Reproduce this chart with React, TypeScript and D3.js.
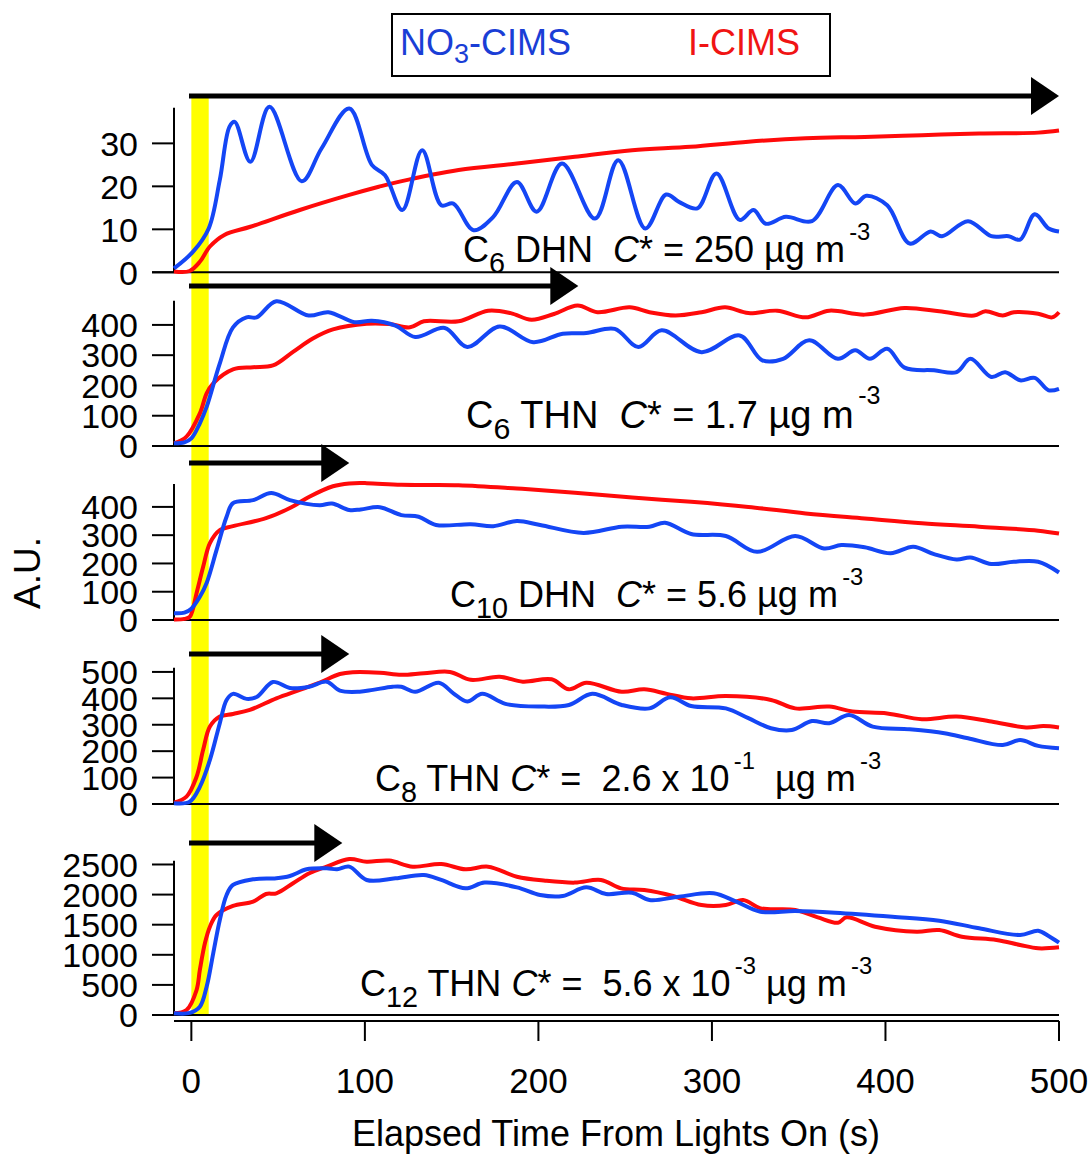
import React from "react";
import * as d3 from "d3";

// ---------- DATA ----------
const xTicks = [0, 100, 200, 300, 400, 500];
const p1Ticks = [0, 10, 20, 30];
const p2Ticks = [0, 100, 200, 300, 400];
const p3Ticks = [0, 100, 200, 300, 400];
const p4Ticks = [0, 100, 200, 300, 400, 500];
const p5Ticks = [0, 500, 1000, 1500, 2000, 2500];
const yMax = [38.3, 480, 481, 516, 2563];
const arrowEnds = [500, 223, 91, 91, 87];
const lightsOn = [0, 10];

const p1Blue: [number, number][] = [[-10,0.9],[1,4.8],[10,10.2],[16.4,21.5],[22,33.9],[25,35],[34,25.7],[45,38.5],[63.6,21.2],[75,28.8],[91,38.1],[104,25],[111.6,22.6],[121.6,14.5],[133,28.4],[144,15.6],[151,16],[162.6,9.8],[174,12.9],[187.6,21],[199,14.1],[213.6,25.3],[232.6,12.5],[246,26.1],[261.6,10.2],[273.6,18.1],[281,16.4],[291.6,14.9],[302.6,23],[316,12.2],[324,14.5],[331,11.3],[342.6,12.9],[357.6,11.9],[372.6,20.3],[382.6,16],[389,17.8],[401,15.6],[414,6.7],[426,9.5],[432.6,8.4],[447.6,11.9],[461,8.4],[471,8.4],[477.6,7.6],[486,13.5],[494,10.2],[500,9.5]];
const p1Red: [number, number][] = [[-10,0.2],[-1,0.3],[5,2.5],[10.7,6],[19,8.7],[34,10.6],[62.5,14.5],[91,18],[108,19.9],[120,21.1],[154,23.8],[187.6,25.3],[221,26.9],[254,28.4],[287.6,29.2],[321,30.4],[354,31.2],[388,31.5],[421,31.9],[454,32.3],[488,32.5],[500,33]];

const p2Blue: [number, number][] = [[-10,9],[-4,12],[0,25],[4.9,75],[8.8,129],[16.4,273],[24,392],[31.8,425],[37.6,425],[49,478],[67.6,431],[79,442],[94,409],[104,414],[117.6,398],[129,360],[146,390],[159,327],[177.6,395],[197,343],[214,371],[227.6,373],[244,387],[257.6,327],[271,382],[294,310],[316,365],[329,283],[341,288],[356,349],[372.6,288],[382.6,316],[391,288],[401,321],[411,259],[428,250],[441,244],[449,288],[461,228],[469,244],[477.6,217],[486,225],[494,184],[500,189]];
const p2Red: [number, number][] = [[-10,9],[-2.8,31],[4.9,108],[8.8,174],[12.6,207],[24,253],[35.6,260],[47,266],[58.6,311],[70,355],[81.6,385],[101,404],[114,403],[126,392],[134,412],[154,412],[171,447],[184,439],[196,417],[209,436],[222.6,464],[234,442],[252.6,458],[264,442],[279,431],[294,442],[307.6,458],[321,439],[337.6,447],[354,425],[367.6,447],[388,434],[411,456],[431,445],[451,431],[457.6,445],[467.6,431],[474,442],[488,437],[496,425],[500,442]];

const p3Blue: [number, number][] = [[-10,24],[-4,26],[0,40],[4.9,82],[8.8,131],[14.5,247],[20.3,365],[24,413],[35.6,424],[46,449],[56.8,424],[74,406],[81,412],[91,389],[97.6,391],[108.6,399],[121,371],[131,365],[141,336],[161,339],[174,332],[187.6,350],[201,336],[226,308],[248,330],[264,330],[273,344],[288,304],[308,297],[326,241],[348,297],[364.6,253],[374.6,265],[388,257],[403,236],[416,259],[428,233],[441,214],[449,221],[461,198],[474,206],[488,206],[500,168]];
const p3Red: [number, number][] = [[-10,2],[-4,4],[-0.8,12],[3,95],[6.8,188],[10.7,272],[16.4,318],[24,332],[43,360],[56.8,396],[68,436],[81.6,473],[91,483],[101,484],[121,478],[154,477],[187.6,465],[221,450],[254,433],[288,418],[321,400],[354,377],[388,359],[421,342],[454,330],[488,316],[500,306]];

const p4Blue: [number, number][] = [[-10,3],[-0.9,9],[4.9,65],[10.7,167],[16.4,306],[20.3,394],[24,417],[31.8,398],[37.6,405],[47,462],[56.8,439],[68,444],[78,463],[85.6,429],[97,425],[104.6,432],[116,444],[121,444],[129,425],[142.6,459],[151,419],[159,388],[167.6,417],[181,379],[201,369],[217.6,375],[231,417],[248,375],[264,362],[276,404],[288,371],[308,362],[321,325],[334,287],[346,280],[357.6,314],[367.6,306],[379,337],[392.6,293],[414,283],[434,268],[447.6,249],[467.6,223],[477.6,242],[488,220],[500,211]];
const p4Red: [number, number][] = [[-10,5],[-2.8,28],[3,103],[6.8,205],[10.7,293],[16.4,331],[24,341],[33.7,356],[49,400],[62.5,432],[74,460],[85.6,492],[93,499],[108.6,497],[121,489],[134,495],[149,500],[161,470],[177.6,482],[191,463],[207.6,472],[217.6,434],[227.6,459],[248,425],[261,434],[274,417],[288,400],[308,409],[334,394],[348,362],[367.6,369],[381,350],[401,343],[421,321],[441,331],[461,312],[481,290],[491,295],[500,290]];

const p5Blue: [number, number][] = [[-10,30],[-1,35],[4.9,138],[8.8,470],[12.6,1025],[16.4,1578],[20.3,1993],[24,2160],[35.6,2254],[49,2271],[56.8,2309],[66.4,2420],[78,2436],[84,2420],[91,2464],[101,2243],[117.6,2270],[134,2326],[144,2243],[158,2104],[169,2199],[187.6,2120],[201,1993],[214,1977],[227.6,2120],[239,2010],[254,2030],[264,1910],[281,1965],[301,2021],[314,1882],[328,1716],[348,1727],[371,1700],[404,1633],[431,1567],[454,1440],[477.6,1329],[488,1400],[494,1312],[500,1201]];
const p5Red: [number, number][] = [[-10,30],[-2.8,83],[3,415],[4.9,748],[7.8,1191],[10.7,1467],[14.5,1661],[24,1811],[35.6,1882],[43,2010],[49,2021],[58.6,2188],[68,2354],[78,2464],[91,2590],[101,2547],[114,2565],[127.6,2464],[144,2508],[158,2420],[171,2464],[187.6,2297],[204,2231],[221,2199],[236,2243],[247.6,2104],[261,2076],[277.6,1977],[294,1827],[308,1827],[318,1910],[328,1772],[348,1744],[361,1622],[372.6,1533],[377.6,1622],[394,1467],[418,1384],[431,1412],[444,1301],[464,1246],[477.6,1163],[488,1108],[500,1124]];

type Seg = { t: string; s?: "sub" | "sup" | "it" };
const label1: Seg[] = [{ t: "C" }, { t: "6", s: "sub" }, { t: " DHN  " }, { t: "C", s: "it" }, { t: "* = 250 µg m" }, { t: "-3", s: "sup" }];
const label2: Seg[] = [{ t: "C" }, { t: "6", s: "sub" }, { t: " THN  " }, { t: "C", s: "it" }, { t: "* = 1.7 µg m" }, { t: "-3", s: "sup" }];
const label3: Seg[] = [{ t: "C" }, { t: "10", s: "sub" }, { t: " DHN  " }, { t: "C", s: "it" }, { t: "* = 5.6 µg m" }, { t: "-3", s: "sup" }];
const label4: Seg[] = [{ t: "C" }, { t: "8", s: "sub" }, { t: " THN " }, { t: "C", s: "it" }, { t: "* =  2.6 x 10" }, { t: "-1", s: "sup" }, { t: "  µg m" }, { t: "-3", s: "sup" }];
const label5: Seg[] = [{ t: "C" }, { t: "12", s: "sub" }, { t: " THN " }, { t: "C", s: "it" }, { t: "* =  5.6 x 10" }, { t: "-3", s: "sup" }, { t: " µg m" }, { t: "-3", s: "sup" }];

const legendBlue = "NO";
const legendBlueSub = "3";
const legendBlueRest = "-CIMS";
const legendRed = "I-CIMS";
const yTitle = "A.U.";
const xTitle = "Elapsed Time From Lights On (s)";

// ---------- LAYOUT / STYLE ----------
const FONT = "'Liberation Sans', Arial, Helvetica, sans-serif";
const BLUE = "#1446f5";
const RED = "#ff0a0a";
const W = 1092;
const H = 1154;
const X0 = 174;
const X1 = 1059;

const panels = [
  { bottom: 272.3, top: 107.7, ticks: p1Ticks, blue: p1Blue, red: p1Red, arrowY: 96, label: label1, lx: 463, ly: 262, fs: 36 },
  { bottom: 446, top: 300.7, ticks: p2Ticks, blue: p2Blue, red: p2Red, arrowY: 286, label: label2, lx: 466, ly: 428, fs: 38 },
  { bottom: 620, top: 484, ticks: p3Ticks, blue: p3Blue, red: p3Red, arrowY: 463, label: label3, lx: 450, ly: 607, fs: 36 },
  { bottom: 804, top: 667.7, ticks: p4Ticks, blue: p4Blue, red: p4Red, arrowY: 654, label: label4, lx: 375, ly: 791, fs: 36 },
  { bottom: 1015, top: 860.7, ticks: p5Ticks, blue: p5Blue, red: p5Red, arrowY: 843, label: label5, lx: 360, ly: 996, fs: 36 },
];

function RichLabel({ segs, x, y, fs }: { segs: Seg[]; x: number; y: number; fs: number }) {
  let cur = 0;
  const out: React.ReactNode[] = [];
  segs.forEach((sg, i) => {
    let target = 0;
    let size = fs;
    let dx = 0;
    let style: string | undefined;
    if (sg.s === "sub") { target = fs * 0.3; size = fs * 0.8; }
    if (sg.s === "sup") { target = -fs * 0.62; size = fs * 0.66; dx = fs * 0.12; }
    if (sg.s === "it") style = "italic";
    const dy = target - cur;
    cur = target;
    out.push(
      <tspan key={i} dy={dy} dx={dx} fontSize={size} fontStyle={style}>
        {sg.t}
      </tspan>
    );
  });
  return (
    <text x={x} y={y} fontFamily={FONT} fontSize={fs} fill="#000" style={{ whiteSpace: "pre" }}>
      {out}
    </text>
  );
}

export default function App() {
  const x = d3.scaleLinear().domain([-10, 500]).range([X0, X1]);
  const headLen = 28;
  const headHalf = 19;

  return (
    <svg width={W} height={H} style={{ position: "absolute", left: 0, top: 0, display: "block", background: "#fff" }}>
      <rect x={0} y={0} width={W} height={H} fill="#fff" />
      {/* lights-on band */}
      <rect x={x(lightsOn[0])} y={97} width={x(lightsOn[1]) - x(lightsOn[0])} height={1015 - 97} fill="#ffff00" />

      {panels.map((p, i) => {
        const y = d3.scaleLinear().domain([0, yMax[i]]).range([p.bottom, p.top]);
        const line = d3
          .line<[number, number]>()
          .x((d) => x(d[0]))
          .y((d) => y(d[1]))
          .curve(d3.curveCatmullRom.alpha(0.5));
        return (
          <g key={i}>
            <line x1={152} x2={X1} y1={p.bottom} y2={p.bottom} stroke="#000" strokeWidth={2} />
            <line x1={X0} x2={X0} y1={p.bottom} y2={p.top} stroke="#000" strokeWidth={2} />
            {p.ticks.map((t) => (
              <g key={t}>
                <line x1={152} x2={X0} y1={y(t)} y2={y(t)} stroke="#000" strokeWidth={2} />
                <text x={138} y={y(t)} dy="0.36em" textAnchor="end" fontFamily={FONT} fontSize={34} fill="#000">
                  {t}
                </text>
              </g>
            ))}
            <path d={line(p.red) || ""} fill="none" stroke={RED} strokeWidth={4} strokeLinejoin="round" />
            <path d={line(p.blue) || ""} fill="none" stroke={BLUE} strokeWidth={4} strokeLinejoin="round" />
            <RichLabel segs={p.label} x={p.lx} y={p.ly} fs={p.fs} />
          </g>
        );
      })}

      {/* arrows */}
      {panels.map((p, i) => {
        const tip = x(arrowEnds[i]);
        const base = tip - headLen;
        return (
          <g key={"a" + i}>
            <line x1={189} x2={base + 2} y1={p.arrowY} y2={p.arrowY} stroke="#000" strokeWidth={5} />
            <path d={`M${base},${p.arrowY - headHalf}L${tip},${p.arrowY}L${base},${p.arrowY + headHalf}Z`} fill="#000" />
          </g>
        );
      })}

      {/* bottom x axis */}
      <line x1={X0} x2={X1} y1={1021} y2={1021} stroke="#000" strokeWidth={2} />
      {xTicks.map((t) => (
        <g key={t}>
          <line x1={x(t)} x2={x(t)} y1={1021} y2={1041} stroke="#000" strokeWidth={2} />
          <text x={x(t)} y={1093} textAnchor="middle" fontFamily={FONT} fontSize={35} fill="#000">
            {t}
          </text>
        </g>
      ))}
      <text x={616} y={1146} textAnchor="middle" fontFamily={FONT} fontSize={36} fill="#000">
        {xTitle}
      </text>
      <text transform="translate(40,573) rotate(-90)" textAnchor="middle" fontFamily={FONT} fontSize={37} fill="#000">
        {yTitle}
      </text>

      {/* legend */}
      <rect x={392} y={14} width={438} height={62} fill="#fff" stroke="#000" strokeWidth={2} />
      <text x={400} y={55} fontFamily={FONT} fontSize={36} fill="#1a3ed6">
        <tspan>{legendBlue}</tspan>
        <tspan dy={8} fontSize={27}>{legendBlueSub}</tspan>
        <tspan dy={-8}>{legendBlueRest}</tspan>
      </text>
      <text x={688} y={55} fontFamily={FONT} fontSize={36} fill="#f01414">
        {legendRed}
      </text>
    </svg>
  );
}
